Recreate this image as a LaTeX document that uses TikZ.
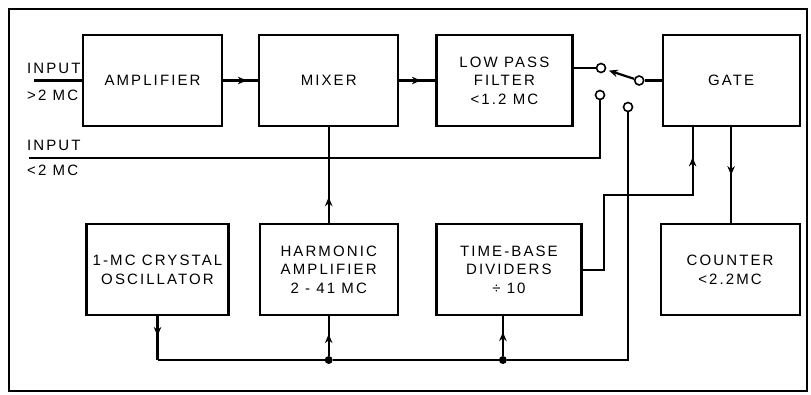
\documentclass[tikz,border=0pt]{standalone}
\usepackage{fontspec}
\setmainfont{Liberation Sans}[LetterSpace=14]
\usetikzlibrary{arrows.meta, positioning, decorations.markings}

\begin{document}
\begin{tikzpicture}[
    x=1pt, y=-1pt,
    node distance=35pt and 35pt,
    box/.style={rectangle, draw, line width=2.2pt, minimum width=139pt, minimum height=91pt, align=center, inner sep=2pt, font=\fontsize{15}{18.5}\selectfont},
    tag/.style={inner sep=0pt, font=\fontsize{15}{18}\selectfont},
    wire/.style={line width=2.2pt},
    tip/.style={-{Stealth[length=9pt,width=7.5pt]}},
    flow/.style={wire, postaction=decorate, decoration={markings, mark=at position #1 with {\arrow{Stealth[length=9pt,width=7.5pt]}}}},
    contact/.style={circle, draw, line width=1.6pt, fill=white, minimum size=9pt, inner sep=0pt},
    junction/.style={circle, fill, minimum size=8pt, inner sep=0pt}
]
\useasboundingbox (0,0) rectangle (811,394);
\draw[line width=2.6pt] (9,9) rectangle (807,391);

% Row 1: signal path
\node[box] (amp) at (152.5,80.5) {AMPLIFIER};
\node[box, right=of amp] (mixer) {MIXER};
\node[box, right=36pt of mixer, minimum width=136pt] (lpf) {LOW PASS\\FILTER\\<1.2 MC};
\node[box, right=88pt of lpf, minimum width=137pt] (gate) {GATE};

% Row 2: time base
\node[box, below=96pt of mixer, minimum width=138pt] (harm) {HARMONIC\\AMPLIFIER\\2 - 41 MC};
\node[box, left=29pt of harm, minimum width=142pt] (osc) {1-MC CRYSTAL\\OSCILLATOR};
\node[box, below=96pt of lpf.south west, anchor=north west, minimum width=145pt] (tb) {TIME-BASE\\DIVIDERS\\÷ 10};
\node[box, below=96pt of gate.south east, anchor=north east] (counter) {COUNTER\\<2.2MC};

% Inputs
\node[tag, anchor=base west] (inalab) at (27,73) {INPUT};
\node[tag, anchor=base west] (inaval) at (27,100) {>2 MC};
\node[tag, anchor=base west] (inblab) at (27,150) {INPUT};
\node[tag, anchor=base west] (inbval) at (27,175) {<2 MC};
\coordinate (ina) at ([xshift=-48pt]amp.west);
\coordinate (inb) at (29,158);

% Switch
\node[contact] (sa) at (601,68) {};
\node[contact] (sb) at (600,95) {};
\node[contact] (sc) at (628,107) {};
\node[contact, left=17pt of gate] (pivot) {};

% Bus
\coordinate (busl) at (osc.south |- 0,360);
\coordinate (tbin) at ([xshift=-6pt]tb.south);
\node[junction] (jh) at (harm.south |- 0,360) {};
\node[junction] (jt) at (tbin |- 0,360) {};
\coordinate (jog) at (604,195);
\coordinate (gatein) at ([xshift=-38.5pt]gate.south);

% Arrows
\draw[wire] (ina) -- (amp);
\draw[flow=0.68] (amp) -- (mixer);
\draw[flow=0.6] (mixer) -- (lpf);
\draw[wire] (lpf.east |- sa) -- (sa);
\draw[wire, tip, shorten >=3pt] (pivot) -- (sa);
\draw[wire] (pivot) -- (gate);
\draw[wire] (inb) -| (sb);
\draw[flow=0.27] (harm) -- (mixer);
\draw[flow=0.45] (osc) -- (busl);
\draw[wire] (busl) -- (jh) -- (jt) -| (sc);
\draw[flow=0.55] (jh) -- (harm);
\draw[flow=0.6] (jt) -- (tbin);
\draw[flow=0.88] (tb.east) -| (jog) -| (gatein);
\draw[flow=0.5] (gate.south) -- (gate.south |- counter.north);
\end{tikzpicture}
\end{document}
